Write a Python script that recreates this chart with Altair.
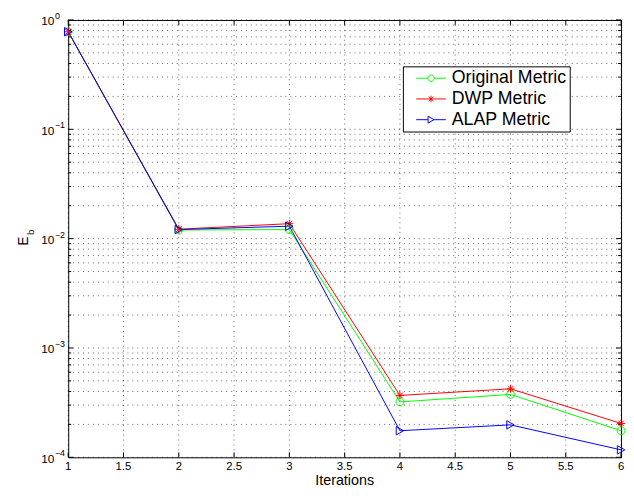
import math
import altair as alt
import pandas as pd

# ---- data ----
iterations = [1, 2, 3, 4, 5, 6]
series_names = ["Original Metric", "DWP Metric", "ALAP Metric"]
original = [0.78, 0.0120, 0.0121, 3.21e-4, 3.76e-4, 1.75e-4]
dwp = [0.78, 0.0122, 0.0137, 3.68e-4, 4.23e-4, 2.04e-4]
alap = [0.78, 0.0121, 0.0130, 1.75e-4, 1.98e-4, 1.17e-4]
colors = ["#00ff00", "#ff0000", "#0000ff"]

x_ticks = [1, 1.5, 2, 2.5, 3, 3.5, 4, 4.5, 5, 5.5, 6]
x_tick_labels = ["1", "1.5", "2", "2.5", "3", "3.5", "4", "4.5", "5", "5.5", "6"]
decade_exps = [-4, -3, -2, -1, 0]
exp_labels = ["\u22124", "\u22123", "\u22122", "\u22121", "0"]

FONT = "Liberation Sans"
W, H = 560, 443

# marker shapes (unit paths, scaled by sqrt(size)/2)
circle_p = "M-0.8,0A0.8,0.8 0 1,0 0.8,0A0.8,0.8 0 1,0 -0.8,0"
star_p = "M0,-0.8V0.8M-0.8,0H0.8M-0.57,-0.57L0.57,0.57M-0.57,0.57L0.57,-0.57"
tri_p = "M-0.75,-0.85L0.75,0L-0.75,0.85Z"
marker_paths = [circle_p, star_p, tri_p]
legend_paths = [
    "M-3,0H-0.65M0.65,0H3M-0.65,0A0.65,0.65 0 1,0 0.65,0A0.65,0.65 0 1,0 -0.65,0",
    "M-3,0H3M0,-0.65V0.65M-0.46,-0.46L0.46,0.46M-0.46,0.46L0.46,-0.46",
    "M-3,0H-0.6M0.6,0H3M-0.6,-0.7L0.6,0L-0.6,0.7Z",
]

rows = []
for name, vals in zip(series_names, [original, dwp, alap]):
    for x, v in zip(iterations, vals):
        rows.append({"iteration": x, "Eb": v, "series": name})
df = pd.DataFrame(rows)

y_grid = [m * 10.0 ** k for k in range(-4, 0) for m in range(1, 10)] + [1.0]
ytick_df = pd.DataFrame({"v": y_grid,
                         "major": [abs(v - 10 ** round(math.log10(v))) < 1e-12 for v in y_grid]})
xtick_df = pd.DataFrame({"x": x_ticks, "lab": x_tick_labels})
dec_df = pd.DataFrame({"v": [10.0 ** k for k in decade_exps], "ten": ["10"] * 5, "ex": exp_labels})

xs = alt.Scale(domain=[1, 6], nice=False, zero=False)
ys = alt.Scale(type="log", domain=[1e-4, 1], nice=False)
cscale = alt.Scale(domain=series_names, range=colors)

X = lambda f: alt.X(f, scale=xs, axis=None)
Y = lambda f: alt.Y(f, scale=ys, axis=None)

# dotted grid
grid_kw = dict(color="black", strokeWidth=1, strokeDash=[1, 4], opacity=0.6)
vgrid = alt.Chart(xtick_df).mark_rule(**grid_kw).encode(
    x=X("x:Q"), y=alt.value(0), y2=alt.value(H))
hgrid = alt.Chart(ytick_df).mark_rule(**grid_kw).encode(
    y=Y("v:Q"), x=alt.value(0), x2=alt.value(W))

line = alt.Chart(df).mark_line(strokeWidth=1).encode(
    x=X("iteration:Q"), y=Y("Eb:Q"),
    color=alt.Color("series:N", scale=cscale, legend=None),
)

pts = alt.Chart(df).mark_point(filled=False, size=100, strokeWidth=1, opacity=1).encode(
    x=X("iteration:Q"), y=Y("Eb:Q"),
    color=alt.Color("series:N", scale=cscale, legend=None),
    shape=alt.Shape("series:N", scale=alt.Scale(domain=series_names, range=marker_paths), legend=None),
)

leg_kw = dict(title=None, orient="none", legendX=339, legendY=47, fillColor="white",
              strokeColor="black", padding=3, symbolOffset=16.5, labelOffset=12,
              labelFontSize=18, labelFont=FONT, labelColor="black", symbolStrokeWidth=1,
              symbolSize=100, rowPadding=3, cornerRadius=0,
              labelExpr="datum.label + '\u00a0\u00a0\u00a0'")
leg = alt.Chart(df).transform_filter("false").mark_point(filled=False, size=100, strokeWidth=1,
                                                          opacity=1).encode(
    x=X("iteration:Q"), y=Y("Eb:Q"),
    color=alt.Color("series:N", scale=cscale, legend=alt.Legend(**leg_kw)),
    shape=alt.Shape("series:N", scale=alt.Scale(domain=series_names, range=legend_paths),
                    legend=alt.Legend(**leg_kw)),
)

# inward ticks (MATLAB style)
tk = dict(color="black", strokeWidth=1)
xt_bottom = alt.Chart(xtick_df).mark_rule(**tk).encode(x=X("x:Q"), y=alt.value(H), y2=alt.value(H - 5))
xt_top = alt.Chart(xtick_df).mark_rule(**tk).encode(x=X("x:Q"), y=alt.value(0), y2=alt.value(5))
yt_major = ytick_df[ytick_df["major"]]
yt_minor = ytick_df[~ytick_df["major"]]
yt_l_major = alt.Chart(yt_major).mark_rule(**tk).encode(y=Y("v:Q"), x=alt.value(0), x2=alt.value(5))
yt_r_major = alt.Chart(yt_major).mark_rule(**tk).encode(y=Y("v:Q"), x=alt.value(W), x2=alt.value(W - 5))
yt_l_minor = alt.Chart(yt_minor).mark_rule(**tk).encode(y=Y("v:Q"), x=alt.value(0), x2=alt.value(3))
yt_r_minor = alt.Chart(yt_minor).mark_rule(**tk).encode(y=Y("v:Q"), x=alt.value(W), x2=alt.value(W - 3))

# tick labels
xlab = alt.Chart(xtick_df).mark_text(align="center", baseline="top", fontSize=11.5, font=FONT,
                                     color="black").encode(
    x=X("x:Q"), y=alt.value(H + 4), text="lab:N")
ten_txt = alt.Chart(dec_df).mark_text(align="right", baseline="middle", dy=1.5, fontSize=12,
                                      font=FONT, color="black").encode(
    y=Y("v:Q"), x=alt.value(-14), text="ten:N")
exp_txt = alt.Chart(dec_df).mark_text(align="left", baseline="middle", dy=-4, fontSize=9,
                                      font=FONT, color="black").encode(
    y=Y("v:Q"), x=alt.value(-13.5), text="ex:N")

# axis titles
one = pd.DataFrame({"a": [0]})
xtitle = alt.Chart(one).mark_text(align="center", baseline="alphabetic", fontSize=14.5, font=FONT,
                                  color="black").encode(
    x=alt.value(W / 2), y=alt.value(H + 28), text=alt.value("Iterations"))
e_txt = alt.Chart(one).mark_text(angle=270, align="center", baseline="alphabetic", fontSize=14,
                                 font=FONT, color="black").encode(
    x=alt.value(-41), y=alt.value(224), text=alt.value("E"))
b_txt = alt.Chart(one).mark_text(angle=270, align="center", baseline="alphabetic", fontSize=10,
                                 font=FONT, color="black").encode(
    x=alt.value(-35), y=alt.value(215), text=alt.value("b"))

chart = alt.layer(
    vgrid, hgrid, xt_bottom, xt_top, yt_l_major, yt_r_major, yt_l_minor, yt_r_minor,
    line, pts, leg, xlab, ten_txt, exp_txt, xtitle, e_txt, b_txt
).resolve_scale(
    shape="independent", color="independent"
).properties(
    width=W, height=H,
    autosize=alt.AutoSizeParams(type="none"),
    padding={"left": 61, "top": 9, "right": 5, "bottom": 30},
    background="white",
).configure_view(stroke="black", strokeWidth=1)

chart.save("out.html", embed_options={"renderer": "svg", "actions": False})
